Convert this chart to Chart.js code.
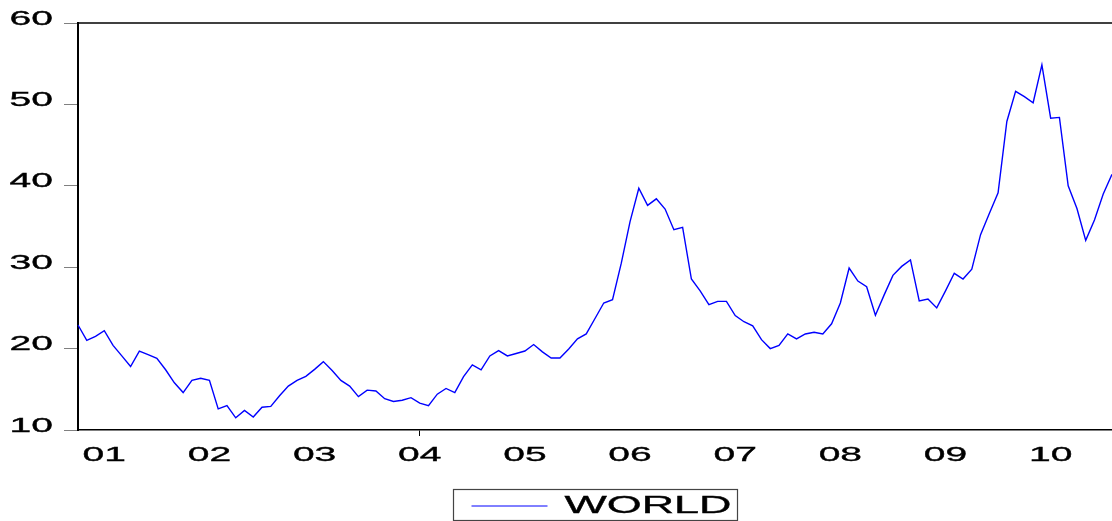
<!DOCTYPE html>
<html>
<head>
<meta charset="utf-8">
<script src="https://cdn.jsdelivr.net/npm/chart.js@4"></script>
<style>
  body { margin: 0; background: #fff; }
  #wrap { width: 1112px; height: 521px; }
</style>
</head>
<body>
<div id="wrap"><canvas id="worldChart" width="1112" height="521"></canvas></div>
<script>
// monthly series, Oct 2000 .. Aug 2010
const startYear = 2000
const startMonth = 10
const seriesName = 'WORLD'
const world = [
  22.9, 21.0, 21.5,
  22.2, 20.4, 19.1, 17.8, 19.7, 19.25, 18.8, 17.4, 15.8, 14.6, 16.1, 16.35,
  16.1, 12.6, 13.0, 11.5, 12.4, 11.6, 12.8, 12.9, 14.2, 15.4, 16.1, 16.6,
  17.45, 18.4, 17.3, 16.1, 15.4, 14.1, 14.9, 14.8, 13.85, 13.5, 13.65, 13.97,
  13.3, 13.0, 14.4, 15.1, 14.6, 16.55, 18.0, 17.4, 19.1, 19.75, 19.1, 19.4,
  19.7, 20.5, 19.6, 18.85, 18.85, 19.95, 21.2, 21.8, 23.7, 25.6, 26.0, 30.5,
  35.6, 39.7, 37.6, 38.4, 37.15, 34.6, 34.9, 28.55, 27.1, 25.4, 25.8, 25.8,
  24.05, 23.3, 22.8, 21.1, 20.0, 20.4, 21.8, 21.2, 21.8, 22.0, 21.8, 23.05,
  25.6, 29.9, 28.3, 27.6, 24.1, 26.6, 29.0, 30.1, 30.9, 25.85, 26.1, 25.0,
  27.1, 29.25, 28.55, 29.75, 34.0, 36.6, 39.15, 47.9, 51.6, 50.95, 50.2, 54.85,
  48.3, 48.4, 40.0, 37.2, 33.3, 35.8, 39.0, 41.4
]
const yTicks = [10, 20, 30, 40, 50, 60]

const months = world.map((v, i) => {
  const m = startMonth - 1 + i
  const y = startYear + Math.floor(m / 12)
  return y + '-' + String(m % 12 + 1).padStart(2, '0')
})

function yearLabel(idx) {
  const lab = months[idx]
  if (!lab || !lab.endsWith('-01')) return null
  return lab.slice(2, 4)
}

const STRETCH = 1.95

// eviews-ish wide text: stretch every fillText horizontally around its anchor
const wideText = {
  id: 'wideText',
  beforeDraw(chart) {
    const ctx = chart.ctx
    if (ctx._wide) return
    const orig = ctx.fillText.bind(ctx)
    const origStroke = ctx.strokeText.bind(ctx)
    ctx.fillText = function (t, x, y) {
      ctx.save()
      ctx.translate(x, y)
      ctx.scale(STRETCH, 1)
      orig(t, 0, 0)
      // a hair of stroke so the glyphs look as heavy as the original
      ctx.lineWidth = 0.35
      ctx.strokeStyle = ctx.fillStyle
      origStroke(t, 0, 0)
      ctx.restore()
    }
    ctx._wide = true
  }
}

const frameAndLegend = {
  id: 'frameAndLegend',
  afterDraw(chart) {
    const ctx = chart.ctx
    const a = chart.chartArea
    ctx.save()
    ctx.strokeStyle = '#000'
    ctx.lineWidth = 1.5
    ctx.beginPath()
    ctx.moveTo(a.left - 1, a.top)
    ctx.lineTo(a.right, a.top)
    ctx.stroke()

    // legend box
    const ds = chart.data.datasets[0]
    const w = 284, h = 31
    const cx = (a.left + a.right) / 2
    const bx = Math.round(cx - w / 2) + 0.5
    const by = a.bottom + 59.5
    ctx.strokeStyle = '#444'
    ctx.lineWidth = 1.2
    ctx.strokeRect(bx, by, w, h)
    ctx.strokeStyle = ds.borderColor
    ctx.lineWidth = 1
    ctx.beginPath()
    ctx.moveTo(bx + 18, by + 16.5)
    ctx.lineTo(bx + 94, by + 16.5)
    ctx.stroke()
    ctx.fillStyle = '#000'
    ctx.font = '23px "Liberation Sans", Arial, sans-serif'
    ctx.textAlign = 'left'
    ctx.textBaseline = 'middle'
    ctx.fillText(ds.label, bx + 111, by + 17)
    ctx.restore()
  }
}

new Chart(document.getElementById('worldChart'), {
  type: 'line',
  data: {
    labels: months,
    datasets: [{
      label: seriesName,
      data: world,
      borderColor: '#0000ff',
      borderWidth: 1.4,
      pointRadius: 0,
      tension: 0,
      fill: false
    }]
  },
  options: {
    responsive: false,
    animation: false,
    devicePixelRatio: 1,
    layout: { padding: { top: 23, left: 0, right: 0, bottom: 0 } },
    plugins: {
      legend: { display: false },
      tooltip: { enabled: false }
    },
    scales: {
      x: {
        type: 'category',
        offset: false,
        afterFit: (s) => { s.height = 91 },
        grid: {
          drawOnChartArea: false,
          drawTicks: true,
          tickLength: 6,
          tickColor: (c) => yearLabel(c.index) ? '#000' : 'rgba(0,0,0,0)'
        },
        border: { color: '#000', width: 1.5 },
        ticks: {
          autoSkip: false,
          maxRotation: 0,
          padding: 7,
          color: '#000',
          font: { family: '"Liberation Sans", Arial, sans-serif', size: 20 },
          callback: (v, i) => yearLabel(i)
        }
      },
      y: {
        min: 10,
        max: 60,
        afterFit: (s) => { s.width = 78 },
        afterBuildTicks: (s) => { s.ticks = yTicks.map(v => ({ value: v })) },
        grid: {
          drawOnChartArea: false,
          drawTicks: true,
          tickLength: 14,
          tickColor: '#808080'
        },
        border: { color: '#000', width: 2 },
        ticks: {
          padding: 11,
          labelOffset: -4,
          color: '#000',
          font: { family: '"Liberation Sans", Arial, sans-serif', size: 20 }
        }
      }
    }
  },
  plugins: [wideText, frameAndLegend]
})
</script>
</body>
</html>
